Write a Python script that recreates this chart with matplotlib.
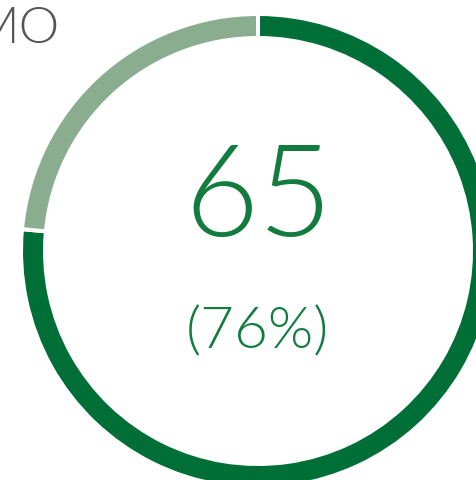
import matplotlib
matplotlib.use("Agg")
import matplotlib.pyplot as plt

# Donut values: achieved vs remaining
values = [65, 20]
colors = ["#006f37", "#8aad90"]
total_label = "65"
pct_label = "(76%)"
title_label = "MO"

W, H = 477, 481
fig = plt.figure(figsize=(W / 100, H / 100), dpi=100)
ax = fig.add_axes([0, 0, 1, 1])

cx, cy = 258, H - 252
ax.pie(values, colors=colors, startangle=90, counterclock=False,
       radius=237, center=(cx, cy),
       wedgeprops=dict(width=24, edgecolor="white", linewidth=2.9))
ax.set_xlim(0, W)
ax.set_ylim(0, H)
ax.set_aspect("auto")
ax.axis("off")

font = ["Lato", "DejaVu Sans"]
green = "#127c3e"
ax.text(cx + 1, H - 201, total_label, ha="center", va="center", fontsize=92,
        color=green, family=font, fontweight=300)
ax.text(cx - 1, H - 333, pct_label, ha="center", va="center", fontsize=42,
        color=green, family=font, fontweight=300)
ax.text(60, H - 43, title_label, ha="right", va="baseline", fontsize=37,
        color="#555555", family=font, fontweight=300)

fig.savefig("out.png", dpi=100)
